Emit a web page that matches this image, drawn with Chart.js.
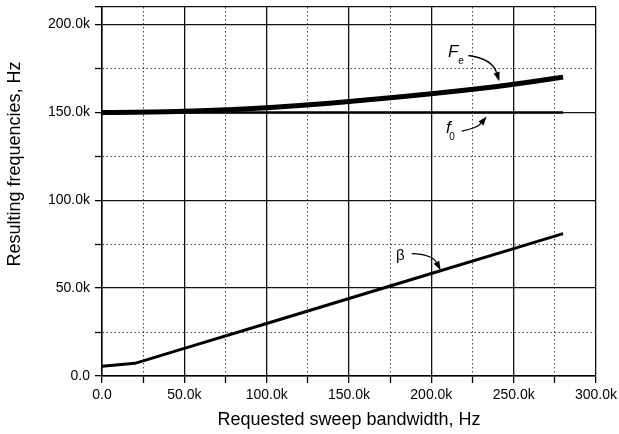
<!DOCTYPE html>
<html>
<head>
<meta charset="utf-8">
<script src="https://cdn.jsdelivr.net/npm/chart.js@4"></script>
<style>
  html, body { margin: 0; padding: 0; background: #fff; }
  #wrap { width: 619px; height: 434px; }
</style>
</head>
<body>
<div id="wrap"><canvas id="c"></canvas></div>
<script>
// requested sweep bandwidth (Hz)
const bwX = [0, 20e3, 40e3, 60e3, 80e3, 100e3, 120e3, 140e3, 160e3, 180e3, 200e3, 220e3, 240e3, 260e3, 280e3];
// F_e (Hz)
const feY = [150.0e3, 150.1e3, 150.4e3, 150.9e3, 151.7e3, 152.7e3, 153.9e3, 155.4e3, 157.1e3, 158.8e3, 160.6e3, 162.6e3, 164.8e3, 167.3e3, 170.1e3];
// f_0 (Hz)
const f0Y = [150e3, 150e3, 150e3, 150e3, 150e3, 150e3, 150e3, 150e3, 150e3, 150e3, 150e3, 150e3, 150e3, 150e3, 150e3];
// beta (Hz)
const betaX = [0, 20e3, 50e3, 100e3, 150e3, 200e3, 250e3, 280e3];
const betaY = [5.5e3, 7.2e3, 15.7e3, 29.9e3, 44.1e3, 58.3e3, 72.5e3, 81.0e3];

// tick values
const xTicks = [0, 25e3, 50e3, 75e3, 100e3, 125e3, 150e3, 175e3, 200e3, 225e3, 250e3, 275e3, 300e3];
const yTicks = [0, 25e3, 50e3, 75e3, 100e3, 125e3, 150e3, 175e3, 200e3, 210e3];
const xMax = 300e3, yMax = 210e3, majorStep = 50e3;

// labels and arrows, in data units
const labels = [
  { text: 'F', x: 210.1e3, y: 181.8e3, font: 'italic 17px "Liberation Sans", Arial, sans-serif' },
  { text: 'e', x: 216.4e3, y: 177.6e3, font: '10px "Liberation Sans", Arial, sans-serif' },
  { text: 'f', x: 208.9e3, y: 138.1e3, font: 'italic 17px "Liberation Sans", Arial, sans-serif' },
  { text: '0', x: 210.9e3, y: 134.5e3, font: '10px "Liberation Sans", Arial, sans-serif' },
  { text: 'β', x: 178.5e3, y: 66.0e3, font: '15px "Liberation Sans", Arial, sans-serif' }
];
const arrows = [
  { from: [222.5e3, 182.4e3], ctrl: [236.8e3, 180.7e3], to: [241.3e3, 167.8e3] },
  { from: [218.4e3, 139.4e3], ctrl: [227.7e3, 140.9e3], to: [233.6e3, 147.7e3] },
  { from: [188.1e3, 69.7e3], ctrl: [200.4e3, 69.3e3], to: [205.7e3, 60.2e3] }
];

const pts = (xs, ys) => xs.map((x, i) => ({ x, y: ys[i] }));
const isMajor = (v, max) => v % majorStep === 0 || v === max;
const fmt = v => v === 0 ? '0.0' : (v / 1000).toFixed(1) + 'k';

const notesPlugin = {
  id: 'notes',
  afterDatasetsDraw(chart) {
    const { ctx, scales: { x, y } } = chart;
    ctx.save();
    ctx.fillStyle = '#000';
    ctx.textBaseline = 'alphabetic';
    ctx.textAlign = 'left';
    labels.forEach(l => {
      ctx.font = l.font;
      ctx.fillText(l.text, x.getPixelForValue(l.x), y.getPixelForValue(l.y));
    });
    ctx.strokeStyle = '#000';
    ctx.lineWidth = 1.3;
    arrows.forEach(a => {
      const p0 = [x.getPixelForValue(a.from[0]), y.getPixelForValue(a.from[1])];
      const pc = [x.getPixelForValue(a.ctrl[0]), y.getPixelForValue(a.ctrl[1])];
      const p1 = [x.getPixelForValue(a.to[0]), y.getPixelForValue(a.to[1])];
      const ang = Math.atan2(p1[1] - pc[1], p1[0] - pc[0]);
      const len = 9, wid = 3.2;
      const bx = p1[0] - len * Math.cos(ang), by = p1[1] - len * Math.sin(ang);
      ctx.beginPath();
      ctx.moveTo(p0[0], p0[1]);
      ctx.quadraticCurveTo(pc[0], pc[1], bx, by);
      ctx.stroke();
      ctx.beginPath();
      ctx.moveTo(p1[0], p1[1]);
      ctx.lineTo(bx + wid * Math.sin(ang), by - wid * Math.cos(ang));
      ctx.lineTo(bx - wid * Math.sin(ang), by + wid * Math.cos(ang));
      ctx.closePath();
      ctx.fill();
    });
    ctx.restore();
  }
};

const tickFont = { family: '"Liberation Sans", Arial, sans-serif', size: 14 };
const titleFont = { family: '"Liberation Sans", Arial, sans-serif', size: 18 };

function gridFor(max) {
  return {
    color: c => isMajor(c.tick.value, max) ? '#111' : '#444',
    lineWidth: c => isMajor(c.tick.value, max) ? 1.3 : 1,
    tickColor: '#000',
    tickWidth: 1.3,
    tickLength: 7,
    borderDash: c => (c.tick && !isMajor(c.tick.value, max)) ? [1.5, 2.5] : []
  };
}
function borderFor(max) {
  return {
    color: '#000',
    width: 1.5,
    dash: c => (c.tick && !isMajor(c.tick.value, max)) ? [1.5, 2.5] : []
  };
}
const labelFor = max => v => (v % majorStep === 0) ? fmt(v) : '';

new Chart(document.getElementById('c'), {
  type: 'line',
  data: {
    datasets: [
      { label: 'Fe', data: pts(bwX, feY), borderColor: '#000', borderWidth: 5, pointRadius: 0, cubicInterpolationMode: 'monotone', fill: false },
      { label: 'f0', data: pts(bwX, f0Y), borderColor: '#000', borderWidth: 2.5, pointRadius: 0, fill: false },
      { label: 'beta', data: pts(betaX, betaY), borderColor: '#000', borderWidth: 3, pointRadius: 0, fill: false }
    ]
  },
  options: {
    responsive: true,
    maintainAspectRatio: false,
    animation: false,
    layout: { padding: { left: 0, right: 23, top: 7, bottom: 0 } },
    plugins: { legend: { display: false }, tooltip: { enabled: false } },
    scales: {
      x: {
        type: 'linear',
        min: 0, max: xMax,
        afterBuildTicks: s => { s.ticks = xTicks.map(value => ({ value })); },
        ticks: { callback: labelFor(xMax), font: tickFont, color: '#000', padding: 4, maxRotation: 0, autoSkip: false },
        grid: gridFor(xMax),
        border: borderFor(xMax),
        title: { display: true, text: 'Requested sweep bandwidth, Hz', font: titleFont, color: '#000', padding: { top: 4, bottom: 3 } },
        afterFit: s => { s.height = 58; s.paddingLeft = 0; s.paddingRight = 0; }
      },
      y: {
        type: 'linear',
        min: 0, max: yMax,
        afterBuildTicks: s => { s.ticks = yTicks.map(value => ({ value })); },
        ticks: { callback: labelFor(yMax), font: tickFont, color: '#000', padding: 5, autoSkip: false },
        grid: gridFor(yMax),
        border: borderFor(yMax),
        title: { display: true, text: '           Resulting frequencies, Hz', font: titleFont, color: '#000', padding: { top: 4, bottom: 4 } },
        afterFit: s => { s.width = 102; s.paddingTop = 0; s.paddingBottom = 0; }
      }
    }
  },
  plugins: [notesPlugin]
});
</script>
</body>
</html>
